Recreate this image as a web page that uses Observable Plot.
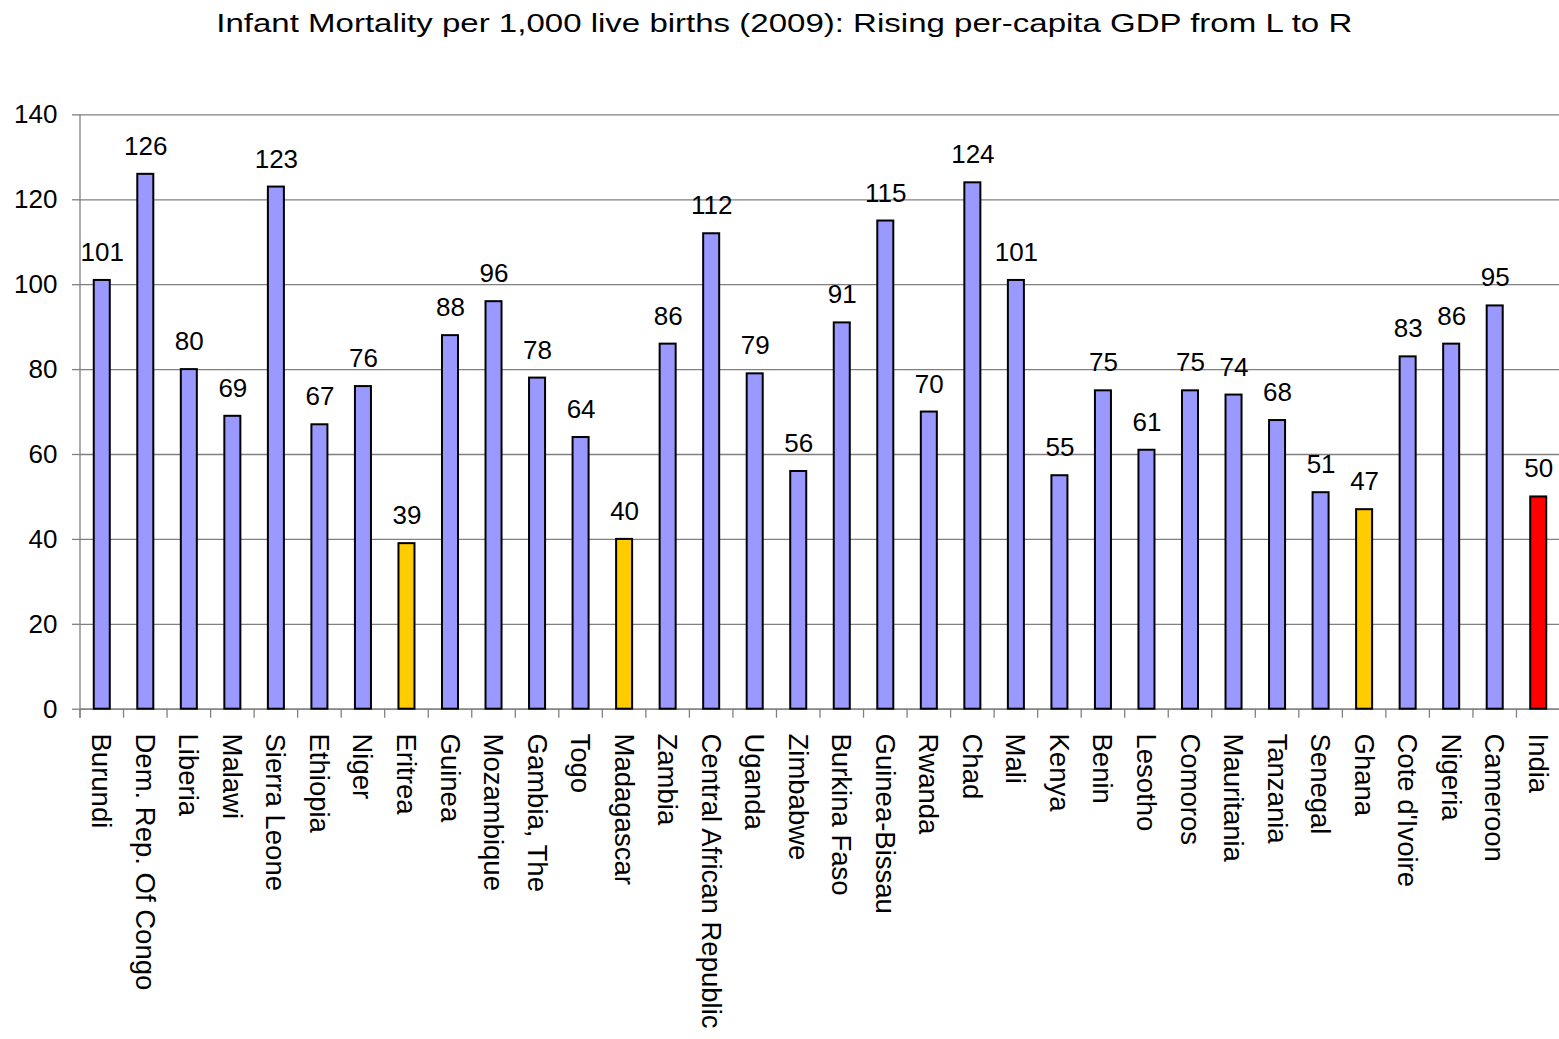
<!DOCTYPE html>
<html>
<head>
<meta charset="utf-8">
<script src="https://cdn.jsdelivr.net/npm/d3@7"></script>
<script src="https://cdn.jsdelivr.net/npm/@observablehq/plot@0.6"></script>
<style>
  html, body { margin: 0; padding: 0; background: #fff; overflow: hidden; }
  #title {
    height: 50px; box-sizing: border-box; padding-top: 8px; padding-left: 10px;
    line-height: 30px; font: 26px "Liberation Sans", Arial, sans-serif;
    text-align: center; color: #000; white-space: nowrap;
  }
  #title span { display: inline-block; transform: scaleX(1.27); transform-origin: 50% 50%; }
  #chart svg { display: block; }
</style>
</head>
<body>
<div id="title"><span>Infant Mortality per 1,000 live births (2009): Rising per-capita GDP from L to R</span></div>
<div id="chart"></div>
<script>
// Countries ordered by rising per-capita GDP, left to right
const countries = [
  "Burundi", "Dem. Rep. Of Congo", "Liberia", "Malawi", "Sierra Leone", "Ethiopia",
  "Niger", "Eritrea", "Guinea", "Mozambique", "Gambia, The", "Togo", "Madagascar",
  "Zambia", "Central African Republic", "Uganda", "Zimbabwe", "Burkina Faso",
  "Guinea-Bissau", "Rwanda", "Chad", "Mali", "Kenya", "Benin", "Lesotho", "Comoros",
  "Mauritania", "Tanzania", "Senegal", "Ghana", "Cote d'Ivoire", "Nigeria", "Cameroon", "India"
];

// Infant deaths per 1,000 live births, 2009
const mortality = [
  101, 126, 80, 69, 123, 67,
  76, 39, 88, 96, 78, 64, 40,
  86, 112, 79, 56, 91,
  115, 70, 124, 101, 55, 75, 61, 75,
  74, 68, 51, 47, 83, 86, 95, 50
];

// Highlighted countries
const yellowCountries = ["Eritrea", "Madagascar", "Ghana"];
const redCountries = ["India"];

const yTicks = [0, 20, 40, 60, 80, 100, 120, 140];

const data = countries.map((country, i) => ({country, value: mortality[i]}));

const barColor = d =>
  redCountries.includes(d.country) ? "#FF0000"
  : yellowCountries.includes(d.country) ? "#FFCC00"
  : "#9999FF";

// Left axis line and the category separator ticks hanging below the baseline
function axisLines(index, scales, values, dims) {
  const x = scales.x, y = scales.y;
  const bw = x.bandwidth ? x.bandwidth() : 0;
  const step = x(countries[1]) - x(countries[0]);
  const edge = c => x(c) + bw / 2 - step / 2;
  const y0 = y(0), yTop = y(d3.max(yTicks));
  const g = d3.create("svg:g").attr("stroke", "#808080").attr("stroke-width", 1.3);
  g.append("line")
    .attr("x1", edge(countries[0])).attr("x2", edge(countries[0]))
    .attr("y1", yTop).attr("y2", y0 + 9);
  for (const c of countries) {
    g.append("line")
      .attr("x1", edge(c)).attr("x2", edge(c))
      .attr("y1", y0).attr("y2", y0 + 9);
  }
  return g.node();
}

const chart = Plot.plot({
  width: 1559,
  height: 989,
  marginLeft: 80,
  marginRight: 0,
  marginTop: 64,
  marginBottom: 330,
  style: {
    fontFamily: "'Liberation Sans', Arial, sans-serif",
    fontSize: "26px",
    background: "white",
    color: "black",
    overflow: "visible",
    maxWidth: "none"
  },
  x: {
    domain: countries,
    range: [80, 1560],
    paddingInner: 0.632,
    paddingOuter: 0.316,
    align: 0.5,
    round: false,
    axis: null
  },
  y: {
    domain: [0, 140],
    range: [658.7, 64.4],
    axis: null
  },
  marks: [
    Plot.gridY(yTicks, {stroke: "#808080", strokeOpacity: 1, strokeWidth: 1.3}),
    Plot.axisY(yTicks, {
      tickSize: 8, tickPadding: 15, fontSize: 26,
      stroke: "#808080", strokeWidth: 1.3, fill: "black", label: null
    }),
    Plot.ruleY([0], {stroke: "#808080", strokeWidth: 1.3}),
    Plot.barY(data, {
      x: "country", y: "value",
      fill: barColor, stroke: "black", strokeWidth: 2
    }),
    axisLines,
    Plot.text(data, {
      x: "country", y: "value",
      text: d => String(d.value),
      lineAnchor: "bottom", dy: -19.5,
      fontSize: 26, fill: "black"
    }),
    Plot.text(countries, {
      x: d => d,
      text: d => d,
      frameAnchor: "bottom",
      rotate: 90,
      textAnchor: "start",
      dx: -10,
      dy: 24,
      fontSize: 27.5,
      fill: "black"
    })
  ]
});

document.getElementById("chart").appendChild(chart);
</script>
</body>
</html>
